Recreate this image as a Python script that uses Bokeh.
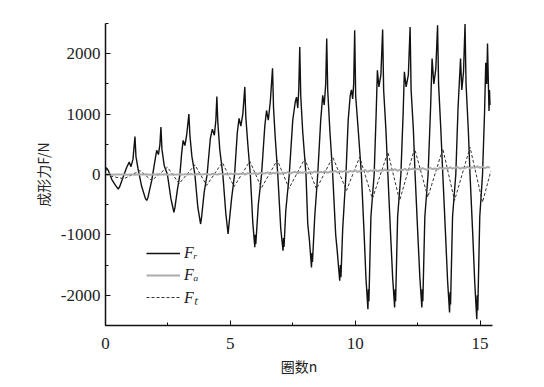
from bokeh.plotting import figure
from bokeh.models import SingleIntervalTicker, Range1d, Legend, LegendItem, PrintfTickFormatter
from bokeh.embed import file_html
from bokeh.resources import INLINE

# Fr (black solid) key points: (turn n, force N)
fr_points = [
    (0.00, 50), (0.03, 110), (0.07, 95), (0.12, 60), (0.25, -80), (0.40, -180), (0.51, -240),
    (0.56, -210), (0.70, -50), (0.85, 120), (0.95, 205), (1.02, 130), (1.10, 250), (1.18, 630),
    (1.22, 300), (1.30, 100), (1.45, -200), (1.60, -400), (1.65, -430), (1.70, -380), (1.85, -100),
    (1.95, 150), (2.05, 400), (2.12, 330), (2.18, 500), (2.22, 785), (2.26, 420), (2.35, 150),
    (2.48, 0), (2.62, -400), (2.74, -625),
    (2.78, -550), (2.88, -250), (2.98, 0), (3.05, 350), (3.11, 565), (3.18, 480), (3.25, 650),
    (3.34, 1000), (3.38, 650), (3.46, 300), (3.58, 0), (3.70, -550), (3.81, -820),
    (3.85, -700), (3.95, -300), (4.07, 0), (4.20, 600), (4.28, 750), (4.36, 650), (4.42, 900),
    (4.46, 1290), (4.50, 850), (4.58, 400), (4.70, 0), (4.82, -650), (4.91, -985),
    (4.94, -850), (5.05, -400), (5.17, 0), (5.28, 700), (5.35, 930), (5.42, 800), (5.50, 1000),
    (5.58, 1450), (5.62, 950), (5.70, 500), (5.80, 0), (5.90, -800), (5.98, -1205),
    (6.00, -1000), (6.02, -1150), (6.12, -500), (6.25, 0), (6.38, 800), (6.45, 1060), (6.52, 900),
    (6.60, 1200), (6.69, 1760), (6.73, 1100), (6.80, 600), (6.90, 0), (7.02, -900), (7.11, -1260),
    (7.13, -1050), (7.15, -1200), (7.22, -600), (7.36, 0), (7.50, 900), (7.60, 1200), (7.65, 1280),
    (7.70, 1100), (7.74, 1400), (7.78, 2110), (7.82, 1300), (7.90, 700), (8.03, 0), (8.10, -815),
    (8.17, -1100), (8.25, -1540),
    (8.27, -1300), (8.29, -1450), (8.38, -700), (8.50, 0), (8.62, 900), (8.70, 1310), (8.76, 1150),
    (8.82, 1500), (8.86, 2250), (8.90, 1400), (8.99, 700), (9.10, 0), (9.22, -1000), (9.28, -1260),
    (9.38, -1760),
    (9.41, -1500), (9.43, -1700), (9.50, -900), (9.63, 0), (9.72, 900), (9.80, 1300), (9.85, 1400),
    (9.90, 1250), (9.94, 1500), (9.98, 2390), (10.02, 1300), (10.12, 750), (10.25, 0),
    (10.36, -1000), (10.43, -1700), (10.51, -2230),
    (10.53, -1900), (10.55, -2100), (10.63, -700), (10.76, 0), (10.84, 1000), (10.89, 1725),
    (10.95, 1450), (11.03, 1650), (11.10, 2400), (11.14, 1400), (11.23, 750), (11.31, 0),
    (11.42, -1000), (11.50, -1700), (11.58, -2200),
    (11.60, -1900), (11.62, -2100), (11.70, -700), (11.83, 0), (11.92, 1000), (11.97, 1700),
    (12.04, 1450), (12.13, 1650), (12.20, 2440), (12.24, 1400), (12.33, 750), (12.40, 0),
    (12.51, -1000), (12.59, -1700), (12.67, -2200),
    (12.69, -1900), (12.71, -2100), (12.79, -700), (12.92, 0), (13.02, 1100), (13.08, 1920),
    (13.15, 1500), (13.23, 1750), (13.30, 2470), (13.34, 1500), (13.43, 750), (13.51, 0),
    (13.62, -1000), (13.70, -1750), (13.78, -2285),
    (13.80, -1950), (13.82, -2150), (13.90, -700), (14.03, 0), (14.12, 1100), (14.22, 1920),
    (14.27, 1400), (14.34, 1700), (14.40, 2490), (14.44, 1500), (14.53, 750), (14.60, 0),
    (14.71, -1000), (14.79, -1800), (14.87, -2395),
    (14.89, -2000), (14.91, -2250), (14.99, -700), (15.10, 0), (15.18, 1000), (15.23, 1850),
    (15.27, 1500), (15.30, 2170), (15.33, 1600), (15.36, 1050), (15.38, 1400), (15.40, 1150),
]
fr_x = [pt[0] for pt in fr_points]
fr_y = [pt[1] for pt in fr_points]

# Ft (dashed) peaks and troughs
ft_x = [0.00, 0.35, 0.75, 1.38, 1.85, 2.48, 2.95, 3.58, 4.05, 4.68, 5.15, 5.78, 6.25, 6.88,
        7.35, 7.98, 8.45, 9.10, 9.65, 10.18, 10.69, 11.31, 11.78, 12.38, 12.91, 13.51,
        13.98, 14.60, 15.10, 15.43]
ft_y = [0, -40, -70, 65, -100, 120, -150, 160, -180, 200, -200, 220, -220, 240,
        -230, 260, -240, 290, -265, 290, -400, 370, -430, 430, -375, 425,
        -430, 450, -460, 50]

# Fa (gray) sampled every 0.1 turn
fa_step = 0.1
fa_y = [0, 3, 0, -3, 2, 0, -2, 3, 0, -3, 2, 0, -3, 3, 0, -2, 3, 0, -3, 2,
        0, 3, -2, 0, 3, -3, 0, 4, -2, 2,
        5, -2, 6, 0, 8, 2, -4, 9, 3, 0, 10, 4, -3, 12, 5, 0, 14, 2, 8, -2,
        15, 6, 20, 3, 12, 18, 0, 22, 8, 15,
        25, 5, 30, 12, 20, 35, 8, 28, 18, 38, 10, 32, 22, 40, 15, 35, 45, 20, 38, 28,
        48, 18, 42, 30, 50, 25, 45, 35, 55, 28,
        50, 38, 60, 30, 55, 45, 65, 35, 58, 48, 70, 40, 62, 52, 75, 45, 68, 58, 80, 50,
        72, 62, 85, 55, 78, 68, 88, 60, 82, 72,
        92, 70, 85, 100, 75, 95, 82, 105, 88, 78, 110, 90, 100, 85, 115, 95, 105, 90, 120, 98,
        110, 125, 95, 115, 105, 130, 100, 120, 112, 135,
        110, 128, 105, 125, 115]
fa_x = [round(i * fa_step, 2) for i in range(len(fa_y))]

series_labels = ["F\u1d63", "F\u2090", "F\u209c"]
x_label = "圈数n"
y_label = "成形力F/N"

p = figure(frame_width=387, frame_height=302,
           x_range=Range1d(0, 15.5), y_range=Range1d(-2500, 2500),
           output_backend="svg", toolbar_location=None,
           min_border_left=105, min_border_right=44, min_border_top=23, min_border_bottom=56)

r_fr = p.line(fr_x, fr_y, line_color="#111111", line_width=1.4)
r_ft = p.line(ft_x, ft_y, line_color="#333333", line_width=1.0, line_dash="3 2")
r_fa = p.line(fa_x, fa_y, line_color="#acacac", line_width=2.0)

legend = Legend(items=[LegendItem(label=series_labels[0], renderers=[r_fr]),
                       LegendItem(label=series_labels[1], renderers=[r_fa]),
                       LegendItem(label=series_labels[2], renderers=[r_ft])],
                location=(41, 17))
legend.border_line_color = None
legend.background_fill_alpha = 0
legend.padding = 0
legend.margin = 0
legend.spacing = 0
legend.glyph_width = 34
legend.glyph_height = 22
legend.label_height = 22
legend.label_standoff = 4
legend.label_text_font = "Liberation Serif"
legend.label_text_font_style = "italic"
legend.label_text_font_size = "16px"
legend.label_text_color = "#222222"
p.add_layout(legend, "center")

p.grid.visible = False
p.outline_line_color = None
p.background_fill_color = "white"
p.border_fill_color = "white"

xax = p.xaxis[0]
yax = p.yaxis[0]
xax.ticker = SingleIntervalTicker(interval=5, num_minor_ticks=2)
yax.ticker = SingleIntervalTicker(interval=1000, num_minor_ticks=2)
xax.formatter = PrintfTickFormatter(format="%d")
yax.formatter = PrintfTickFormatter(format="%d")
for ax in (xax, yax):
    ax.axis_line_width = 1.5
    ax.axis_line_color = "#111111"
    ax.major_tick_in = 5
    ax.major_tick_out = 0
    ax.minor_tick_in = 3
    ax.minor_tick_out = 0
    ax.major_tick_line_color = "#111111"
    ax.minor_tick_line_color = "#111111"
    ax.major_label_text_font = "Liberation Serif"
    ax.major_label_text_font_size = "17px"
    ax.major_label_text_color = "#222222"
    ax.axis_label_text_font = "Noto Sans CJK SC"
    ax.axis_label_text_font_style = "normal"
    ax.axis_label_text_font_size = "14px"
    ax.axis_label_text_color = "#222222"

xax.axis_label = x_label
yax.axis_label = y_label
xax.major_label_standoff = 12
xax.axis_label_standoff = 4
yax.major_label_standoff = 5
yax.axis_label_standoff = 5

open("out.html", "w").write(file_html(p, INLINE))
